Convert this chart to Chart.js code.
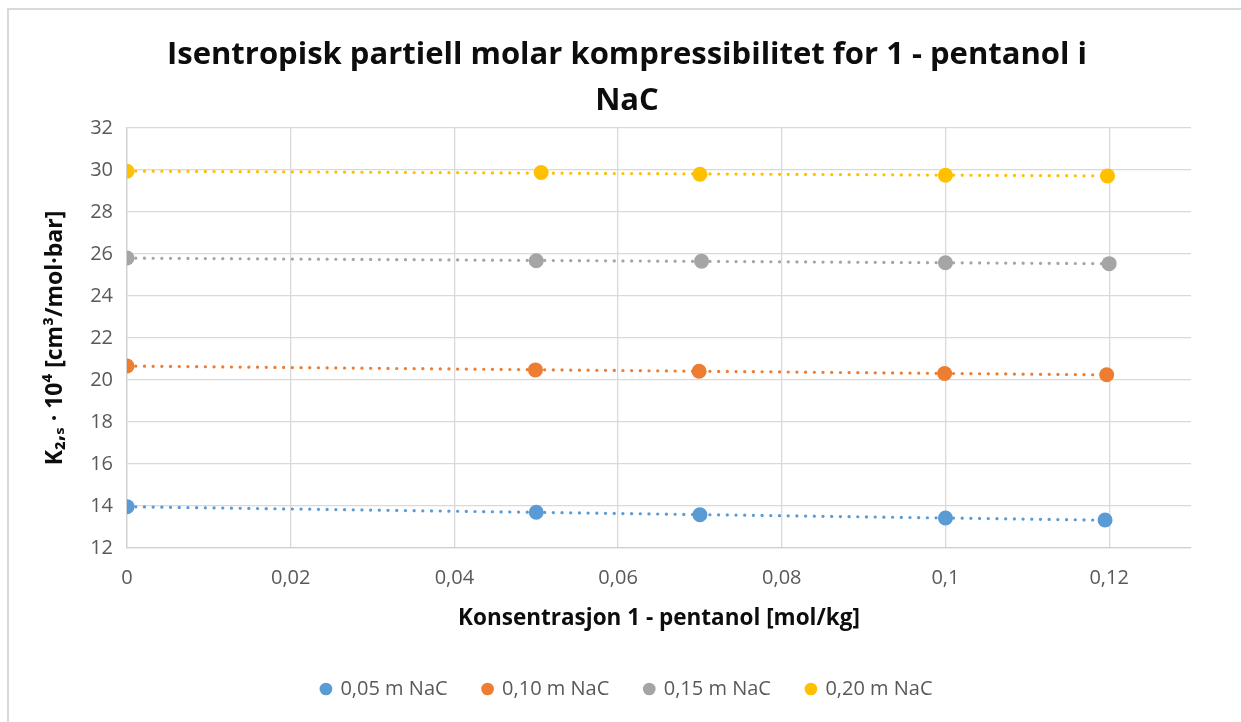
<!DOCTYPE html>
<html>
<head>
<meta charset="utf-8">
<script src="https://cdn.jsdelivr.net/npm/chart.js@4.4.1/dist/chart.umd.min.js"></script>
<style>
  html, body { margin: 0; padding: 0; width: 1241px; height: 722px; overflow: hidden; background: #fff; }
  #frame { position: absolute; left: 7px; top: 8px; width: 1260px; height: 740px; border: 2px solid #d9d9d9; box-sizing: border-box; }
  #wrap { position: absolute; left: 7px; top: 8px; width: 1240px; height: 701px; }
</style>
</head>
<body>
<div id="frame"></div>
<div id="wrap"><canvas id="c" width="1240" height="701"></canvas></div>
<script>
// ---- data ----
const seriesNames = ['0,05 m NaC', '0,10 m NaC', '0,15 m NaC', '0,20 m NaC'];
const xBlue   = [0, 0.05,   0.07,   0.1,    0.1195];
const yBlue   = [13.97, 13.70, 13.58, 13.43, 13.33];
const xOrange = [0, 0.0499, 0.0699, 0.0999, 0.1197];
const yOrange = [20.67, 20.48, 20.42, 20.31, 20.25];
const xGray   = [0, 0.05,   0.0702, 0.1,    0.12];
const yGray   = [25.81, 25.68, 25.66, 25.58, 25.54];
const xYellow = [0, 0.0506, 0.07,   0.1,    0.1198];
const yYellow = [29.94, 29.88, 29.80, 29.75, 29.72];
const yTicks = [12, 14, 16, 18, 20, 22, 24, 26, 28, 30, 32];
const xTicks = [0, 0.02, 0.04, 0.06, 0.08, 0.1, 0.12];
const titleLines = ['Isentropisk partiell molar kompressibilitet for 1 - pentanol i', 'NaC'];
const xTitle = 'Konsentrasjon 1 - pentanol [mol/kg]';
const yTitle = 'K\u2082,\u209b \u00b7 10\u2074 [cm\u00b3/mol\u00b7bar]';

const colors = ['#5B9BD5', '#ED7D31', '#A5A5A5', '#FFC000'];
const xs = [xBlue, xOrange, xGray, xYellow];
const ys = [yBlue, yOrange, yGray, yYellow];

function pts(x, y) { return x.map((v, i) => ({x: v, y: y[i]})); }
function trend(x, y) {
  const n = x.length;
  const mx = x.reduce((a, b) => a + b, 0) / n;
  const my = y.reduce((a, b) => a + b, 0) / n;
  let sxy = 0, sxx = 0;
  for (let i = 0; i < n; i++) { sxy += (x[i] - mx) * (y[i] - my); sxx += (x[i] - mx) ** 2; }
  const b = sxy / sxx, a = my - b * mx;
  const x0 = Math.min(...x), x1 = Math.max(...x);
  return [{x: x0, y: a + b * x0}, {x: x1, y: a + b * x1}];
}

const datasets = [];
seriesNames.forEach((name, i) => {
  datasets.push({
    label: name, data: pts(xs[i], ys[i]), order: 0,
    backgroundColor: colors[i], borderColor: colors[i], pointRadius: 7.5, pointHoverRadius: 7.5,
    pointBorderWidth: 0, showLine: false
  });
});
seriesNames.forEach((name, i) => {
  datasets.push({
    label: 'trend', data: trend(xs[i], ys[i]), order: 1, type: 'line',
    borderColor: colors[i], backgroundColor: colors[i], borderWidth: 3.2,
    borderDash: [0.1, 8.6], borderCapStyle: 'round', pointRadius: 0, showLine: true, fill: false
  });
});

const FONT = '"Open Sans", Lato, sans-serif';
const fmt = v => String(Math.round(v * 1000) / 1000).replace('.', ',');

new Chart(document.getElementById('c'), {
  type: 'scatter',
  data: { datasets },
  options: {
    responsive: false, animation: false,
    layout: { padding: 0 },
    plugins: {
      title: {
        display: true, text: titleLines, color: '#0d0d0d',
        font: { family: FONT, size: 31, weight: 'bold', lineHeight: 46 / 31 },
        padding: { top: 24, bottom: 4 }
      },
      legend: {
        position: 'bottom',
        labels: {
          filter: item => item.text !== 'trend',
          usePointStyle: true, pointStyle: 'circle', boxWidth: 9, boxHeight: 9,
          color: '#595959', font: { family: FONT, size: 20 }, padding: 35.5
        }
      },
      tooltip: { enabled: false }
    },
    scales: {
      x: {
        type: 'linear', min: 0, max: 0.13,
        afterFit: s => { s.height = 95.5; },
        afterBuildTicks: s => { s.ticks = xTicks.map(v => ({value: v})); },
        ticks: { stepSize: 0.02, includeBounds: false, padding: 18, color: '#595959',
                 font: { family: FONT, size: 20 }, callback: v => fmt(v), maxRotation: 0 },
        grid: { color: '#d9d9d9', lineWidth: 1.3, drawTicks: false },
        border: { color: '#d0d0d0', width: 1.3 },
        title: { display: true, text: xTitle, color: '#0d0d0d',
                 font: { family: FONT, size: 22.5, weight: 'bold' }, padding: { top: 0, bottom: 11 } }
      },
      y: {
        type: 'linear', min: 12, max: 32, position: 'left',
        afterFit: s => { s.width = 120; },
        afterBuildTicks: s => { s.ticks = yTicks.map(v => ({value: v})); },
        ticks: { stepSize: 2, padding: 14, color: '#595959', font: { family: FONT, size: 20 } },
        grid: { color: '#d9d9d9', lineWidth: 1.3, drawTicks: false },
        border: { color: '#d0d0d0', width: 1.3 },
        title: { display: true, text: yTitle, color: '#0d0d0d',
                 font: { family: FONT, size: 23, weight: 'bold' }, padding: { top: 34.2, bottom: 0 } }
      },
      yRight: {
        type: 'linear', min: 12, max: 32, position: 'right',
        afterFit: s => { s.width = 56; },
        ticks: { display: false },
        grid: { display: false, drawOnChartArea: false },
        border: { display: false }
      }
    }
  }
});
</script>
</body>
</html>
